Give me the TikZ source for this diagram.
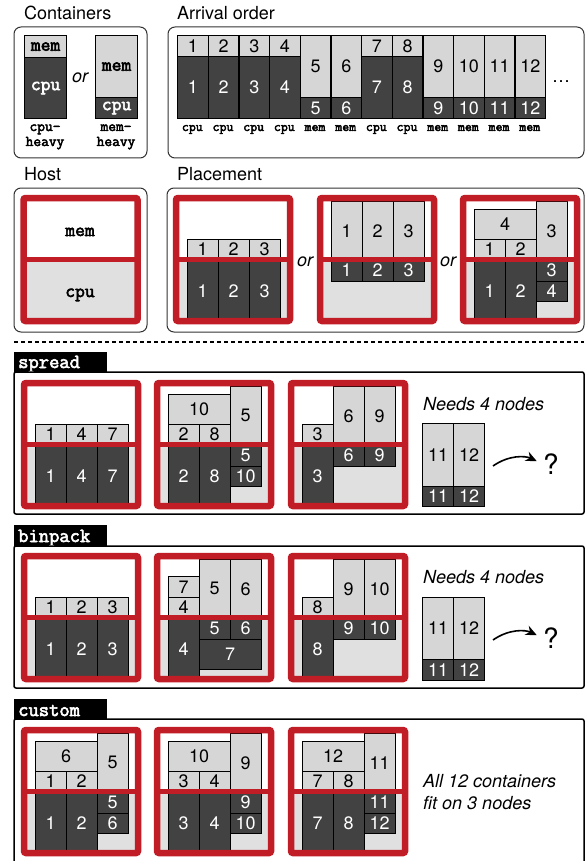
\documentclass[tikz,border=0pt]{standalone}
\usepackage{fontspec}
\setmainfont{TeX Gyre Heros}
\setmonofont{Latin Modern Mono}[AutoFakeBold=3]
\usetikzlibrary{arrows.meta,positioning}

\definecolor{cpugray}{RGB}{66,66,66}
\definecolor{memgray}{RGB}{214,214,214}
\definecolor{bggray}{RGB}{224,224,224}
\definecolor{hostred}{RGB}{192,29,39}

\tikzset{
  blk/.style={draw=black, line width=1.2pt, inner sep=0pt, anchor=north west,
    font=\fontsize{18}{20}\selectfont},
  memblk/.style={blk, fill=memgray, text=black},
  cpublk/.style={blk, fill=cpugray, text=white},
  ttlbl/.style={font=\fontsize{19}{20}\selectfont\ttfamily\bfseries},
  heading/.style={anchor=base west, inner sep=0pt, font=\fontsize{18}{20}\selectfont},
  note/.style={anchor=base west, inner sep=0pt, font=\fontsize{18}{20}\selectfont\itshape},
  orlbl/.style={inner sep=0pt, font=\fontsize{18}{20}\selectfont\itshape},
  kind/.style={anchor=base, inner sep=0pt, font=\fontsize{13.5}{14}\selectfont\ttfamily\bfseries},
  panel/.style={draw=black!80, line width=1pt, rounded corners=7pt},
  secbox/.style={draw=black, line width=1.5pt, rounded corners=2pt},
  tablbl/.style={anchor=base west, inner sep=0pt, text=white,
    font=\fontsize{20}{20}\selectfont\ttfamily\bfseries},
  redframe/.style={draw=hostred, line width=6.5pt, rounded corners=2pt},
  reddiv/.style={draw=hostred, line width=5pt},
  qmark/.style={inner sep=0pt, font=\fontsize{28}{30}\selectfont},
  tryarrow/.style={->, line width=1.6pt, shorten >=7pt},
}

% one block: [style] name, x, y (top left), width, height, text
\newcommand{\blk}[7][memblk]{%
  \node (#2) at (#3,#4) [#1, minimum width=#5, minimum height=#6] {#7};}
\newcommand{\cpuheavy}[3]{%
  \blk{#1m}{13.5+31*#2}{43.5}{31}{21}{#3}
  \blk[cpublk]{#1c}{13.5+31*#2}{64.5}{31}{61.5}{#3}}
\newcommand{\memheavy}[3]{%
  \blk{#1m}{13.5+31*#2}{6}{31}{58.5}{#3}
  \blk[cpublk]{#1c}{13.5+31*#2}{64.5}{31}{21}{#3}}
\newcommand{\mixhost}[5]{%
  \cpuheavy{#1a}{0}{#2}
  \cpuheavy{#1b}{1}{#3}
  \memheavy{#1c}{2}{#4}
  \blk{#1w}{13.5}{14}{62}{29.5}{#5}
  \blk[cpublk]{#1x}{75.5}{85.5}{31}{20.5}{#5}}
\newcommand{\hostbg}{%
  \fill[white] (3,3) rectangle (117,64.5);
  \fill[bggray] (3,64.5) rectangle (117,126);}
\newcommand{\hostframe}{%
  \draw[redframe] (3,3) rectangle (117,126);
  \draw[reddiv] (3,64.5) -- (117,64.5);}

\begin{document}
\begin{tikzpicture}[x=1pt, y=-1pt, >={Stealth[length=11pt,width=10pt]}]
\useasboundingbox (0,0) rectangle (587,861);

% containers and arrival order
\node (tcont) at (24,20) [heading] {Containers};
\node (tarr) at (177,20) [heading] {Arrival order};
\draw[panel] (14,27) rectangle (147,158);
\draw[panel] (168,27) rectangle (584,158);

\blk[memblk,ttlbl]{chm}{24}{35}{42}{22}{mem}
\blk[cpublk,ttlbl]{chc}{24}{57}{42}{61}{cpu}
\blk[memblk,ttlbl]{cmm}{95}{35}{42}{62}{mem}
\blk[cpublk,ttlbl]{cmc}{95}{97}{42}{21}{cpu}
\node (or0) at (80,78) [orlbl] {or};
\node (chl) at (45,131) [kind, font=\fontsize{15}{16}\selectfont\ttfamily\bfseries] {cpu-};
\node (chl2) at (45,146) [kind, font=\fontsize{15}{16}\selectfont\ttfamily\bfseries] {heavy};
\node (cml) at (116,131) [kind, font=\fontsize{15}{16}\selectfont\ttfamily\bfseries] {mem-};
\node (cml2) at (116,146) [kind, font=\fontsize{15}{16}\selectfont\ttfamily\bfseries] {heavy};

\foreach \i/\s/\t in {1/56/cpu,2/56/cpu,3/56/cpu,4/56/cpu,5/97/mem,6/97/mem,
    7/56/cpu,8/56/cpu,9/97/mem,10/97/mem,11/97/mem,12/97/mem}{
  \pgfmathsetmacro{\xa}{177+30.67*(\i-1)}
  \blk{am\i}{\xa}{35}{30.67}{\s-35}{\i}
  \blk[cpublk]{ac\i}{\xa}{\s}{30.67}{118-\s}{\i}
  \node (al\i) at (\xa+15.33,131) [kind] {\t};
}
\node (dots) at (561,83) [anchor=base, font=\fontsize{18}{20}\selectfont] {\dots};

% host and placement
\node (thost) at (24,180) [heading] {Host};
\node (tplace) at (177,180) [heading] {Placement};
\draw[panel] (14,188) rectangle (147,332);
\draw[panel] (167,188) rectangle (584,332);

\begin{scope}[shift={(20.5,195)}]
  \hostbg
  \node (hmem) at (59.5,41) [anchor=base, ttlbl] {mem};
  \node (hcpu) at (59.5,102) [anchor=base, ttlbl] {cpu};
  \hostframe
\end{scope}

\begin{scope}[shift={(173,195)}]
  \hostbg
  \cpuheavy{pa1}{0}{1}
  \cpuheavy{pa2}{1}{2}
  \cpuheavy{pa3}{2}{3}
  \hostframe
\end{scope}
\node (or1) at (305,262) [orlbl] {or};
\begin{scope}[shift={(317,195)}]
  \hostbg
  \memheavy{pb1}{0}{1}
  \memheavy{pb2}{1}{2}
  \memheavy{pb3}{2}{3}
  \hostframe
\end{scope}
\node (or2) at (448,262) [orlbl] {or};
\begin{scope}[shift={(460,195)}]
  \hostbg
  \mixhost{pc}{1}{2}{3}{4}
  \hostframe
\end{scope}

\draw[line width=1.3pt, dash pattern=on 4pt off 3pt] (14,342) -- (584,342);

% spread
\fill (14,352) rectangle (107,372);
\node (tspread) at (18,368) [tablbl] {spread};
\draw[secbox] (14,514) -- (14,372) -- (584,372) -- (584,514) -- cycle;
\begin{scope}[shift={(21,380)}]
  \hostbg
  \cpuheavy{sa1}{0}{1}
  \cpuheavy{sa2}{1}{4}
  \cpuheavy{sa3}{2}{7}
  \hostframe
\end{scope}
\begin{scope}[shift={(154,380)}]
  \hostbg
  \mixhost{sb}{2}{8}{5}{10}
  \hostframe
\end{scope}
\begin{scope}[shift={(288,380)}]
  \hostbg
  \cpuheavy{sc1}{0}{3}
  \memheavy{sc2}{1}{6}
  \memheavy{sc3}{2}{9}
  \hostframe
\end{scope}
\node (sneed) at (423,410) [note] {Needs 4 nodes};
\blk{s11m}{422}{423}{31}{63}{11}
\blk[cpublk]{s11c}{422}{486}{31}{20}{11}
\blk{s12m}{453}{423}{31}{63}{12}
\blk[cpublk]{s12c}{453}{486}{31}{20}{12}
\coordinate (sa) at (493,466);
\node (sq) at (551,464) [qmark] {?};
\draw[tryarrow] (sa) to[out=35, in=155] (sq.west);

% binpack
\fill (14,525) rectangle (107,546);
\node (tbin) at (18,542) [tablbl] {binpack};
\draw[secbox] (14,688) -- (14,546) -- (584,546) -- (584,688) -- cycle;
\begin{scope}[shift={(21,553)}]
  \hostbg
  \cpuheavy{ba1}{0}{1}
  \cpuheavy{ba2}{1}{2}
  \cpuheavy{ba3}{2}{3}
  \hostframe
\end{scope}
\begin{scope}[shift={(154,553)}]
  \hostbg
  \cpuheavy{bb1}{0}{4}
  \blk{bb7m}{13.5}{23}{31}{20.5}{7}
  \memheavy{bb2}{1}{5}
  \memheavy{bb3}{2}{6}
  \blk[cpublk]{bb7c}{44.5}{85.5}{62}{30.5}{7}
  \hostframe
\end{scope}
\begin{scope}[shift={(288,553)}]
  \hostbg
  \cpuheavy{bc1}{0}{8}
  \memheavy{bc2}{1}{9}
  \memheavy{bc3}{2}{10}
  \hostframe
\end{scope}
\node (bneed) at (423,583) [note] {Needs 4 nodes};
\blk{b11m}{422}{597}{31}{62}{11}
\blk[cpublk]{b11c}{422}{659}{31}{21}{11}
\blk{b12m}{453}{597}{31}{62}{12}
\blk[cpublk]{b12c}{453}{659}{31}{21}{12}
\coordinate (ba) at (493,640);
\node (bq) at (551,638) [qmark] {?};
\draw[tryarrow] (ba) to[out=35, in=155] (bq.west);

% custom
\fill (14,699) rectangle (107,719);
\node (tcust) at (18,716) [tablbl] {custom};
\draw[secbox] (14,870) -- (14,719) -- (584,719) -- (584,870);
\begin{scope}[shift={(21,727)}]
  \hostbg
  \mixhost{ca}{1}{2}{5}{6}
  \hostframe
\end{scope}
\begin{scope}[shift={(154,727)}]
  \hostbg
  \mixhost{cb}{3}{4}{9}{10}
  \hostframe
\end{scope}
\begin{scope}[shift={(288,727)}]
  \hostbg
  \mixhost{cc}{7}{8}{11}{12}
  \hostframe
\end{scope}
\node (cnote) at (423,787) [note] {All 12 containers};
\node (cnote2) at (423,809) [note] {fit on 3 nodes};
\end{tikzpicture}
\end{document}
